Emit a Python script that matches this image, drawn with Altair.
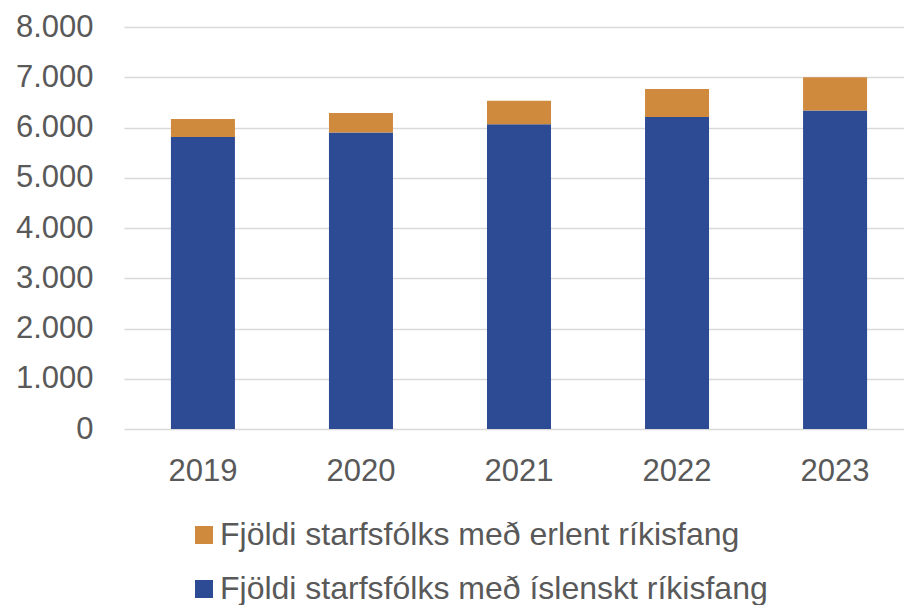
import altair as alt
import pandas as pd

years = ["2019", "2020", "2021", "2022", "2023"]
icelandic = [5810, 5900, 6065, 6210, 6340]
foreign = [360, 390, 465, 555, 660]
series_names = [
    "Fjöldi starfsfólks með erlent ríkisfang",
    "Fjöldi starfsfólks með íslenskt ríkisfang",
]
series_colors = ["#D08A3E", "#2D4A95"]
y_ticks = [0, 1000, 2000, 3000, 4000, 5000, 6000, 7000, 8000]

rows = []
for i, yr in enumerate(years):
    rows.append({"year": yr, "series": series_names[1], "value": icelandic[i], "ord": 0})
    rows.append({"year": yr, "series": series_names[0], "value": foreign[i], "ord": 1})
df = pd.DataFrame(rows)

FONT = "Liberation Sans"

chart = (
    alt.Chart(df)
    .mark_bar()
    .encode(
        x=alt.X(
            "year:N",
            sort=years,
            title=None,
            scale=alt.Scale(paddingInner=0.595, paddingOuter=0.297, range=[0, 790]),
            axis=alt.Axis(
                labelAngle=0,
                labelFont=FONT,
                labelFontSize=31,
                labelColor="#595959",
                labelPadding=27,
                ticks=False,
                domain=False,
                grid=False,
            ),
        ),
        y=alt.Y(
            "value:Q",
            stack="zero",
            title=None,
            scale=alt.Scale(domain=[0, 8000], nice=False),
            axis=alt.Axis(
                values=y_ticks,
                labelExpr="replace(format(datum.value, ','), ',', '.')",
                labelFont=FONT,
                labelFontSize=31,
                labelColor="#595959",
                labelPadding=31,
                ticks=False,
                tickSize=0,
                domain=False,
                grid=True,
                gridColor="#D9D9D9",
                gridWidth=1.5,
            ),
        ),
        color=alt.Color(
            "series:N",
            scale=alt.Scale(domain=series_names, range=series_colors),
            legend=alt.Legend(
                title=None,
                orient="none",
                legendX=64,
                legendY=492,
                direction="vertical",
                symbolType="square",
                symbolSize=324,
                symbolStrokeWidth=0,
                labelFont=FONT,
                labelFontSize=32,
                labelColor="#595959",
                labelOffset=0,
                rowPadding=22,
                padding=0,
                labelLimit=800,
            ),
        ),
        order=alt.Order("ord:Q", sort="ascending"),
    )
    .properties(
        width=780,
        height=402,
        autosize=alt.AutoSizeParams(type="none"),
        padding={"left": 116, "top": 19, "right": 0, "bottom": 176},
    )
    .configure_view(stroke=None)
)

chart.save("out.html", embed_options={"renderer": "svg", "actions": False})
